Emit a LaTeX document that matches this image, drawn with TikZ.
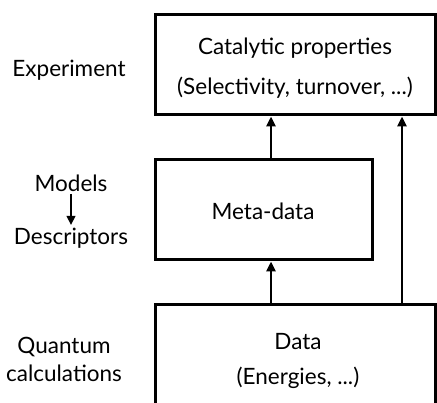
\documentclass[tikz,border=0pt]{standalone}
\usepackage{fontspec}
\setmainfont{Lato}
\usetikzlibrary{arrows.meta}
\begin{document}
\begin{tikzpicture}[x=1pt,y=1pt,
  box/.style={draw=black,line width=3pt},
  lbl/.style={font=\fontsize{22.5}{27}\selectfont,align=center},
  arr/.style={line width=2.6pt,-{Triangle[length=10pt,width=9pt]}}]
\useasboundingbox (0,0) rectangle (437,403);
\clip (0,0) rectangle (437,403);
\draw[box] (155,288) rectangle (435,388);
\draw[box] (155,143) rectangle (372,243);
\draw[box] (155,98) rectangle (435,-20);
\coordinate (topA) at (271,286.5);
\coordinate (topB) at (402,286.5);
\coordinate (metaT) at (271,244.5);
\coordinate (metaB) at (271,141.5);
\coordinate (dataA) at (271,99.5);
\coordinate (dataB) at (402,99.5);
\coordinate (mA) at (71,209);
\coordinate (mB) at (71,178);
\node[lbl] (t1) at (295,355) {Catalytic properties};
\node[lbl] (t2) at (295,315) {(Selectivity, turnover, ...)};
\node[lbl] (m1) at (263,192) {Meta-data};
\node[lbl] (d1) at (298,61) {Data};
\node[lbl] (d2) at (298,25) {(Energies, ...)};
\node[lbl] (exp) at (69,333) {Experiment};
\node[lbl] (mod) at (71,220) {Models};
\node[lbl] (des) at (71,165) {Descriptors};
\node[lbl] (qu) at (64,56) {Quantum};
\node[lbl] (ca) at (64,30) {calculations};
\draw[arr] (metaT) -- (topA);
\draw[arr] (dataA) -- (metaB);
\draw[arr] (dataB) -- (topB);
\draw[line width=2.4pt,-{Triangle[length=9pt,width=8.5pt]}] (mA) -- (mB);
\end{tikzpicture}
\end{document}
